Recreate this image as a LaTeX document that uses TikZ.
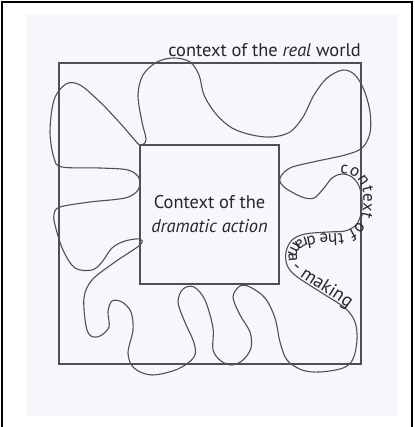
\documentclass[tikz,border=0pt]{standalone}
\usepackage{fontspec}
\setmainfont{PT Sans}
\usetikzlibrary{decorations.text}
\definecolor{inkGray}{HTML}{505050}
\definecolor{textDark}{HTML}{262626}
\definecolor{paperTint}{HTML}{F6F7FB}
\tikzset{
    squarebox/.style={rectangle, draw=inkGray, line width=1.1pt, inner sep=0pt},
    boundary/.style={draw=inkGray, line width=1.1pt},
    worldtext/.style={text=textDark, inner sep=0pt, font=\fontsize{18.4}{24}\selectfont},
    ringtext/.style 2 args={decorate, decoration={text along path, raise=1.5pt, text color=textDark,
        text={|\fontsize{#1}{#1}\selectfont|#2}}},
}

\begin{document}
\begin{tikzpicture}[x=1pt, y=-1pt]
    \useasboundingbox (0,0) rectangle (414,427);
    \fill[paperTint] (26,14) rectangle (398,416);
    \draw[black, line width=2.5pt] (2,427) -- (2,2) -- (412,2) -- (412,427);

    % the two squares
    \node[squarebox, minimum width=302pt, minimum height=301pt] (realworld) at (210,213.5) {};
    \node[squarebox, worldtext, align=center, minimum width=139pt, minimum height=139pt] (action) at (209.5,214.5) {Context of the\\\textit{dramatic action}};
    \node[worldtext, anchor=base east] (realcap) at (361,57) {context of the \textit{real} world};

    % wavy ring between the squares
    \draw[boundary] plot[smooth cycle, tension=0.55] coordinates {
        (140,145) (146,140) (142,122) (138,95) (143,75) (157,62) (174,58) (190,62)
        (199,75) (204,95) (216,114) (232,128) (252,135) (272,137) (290,132) (303,117)
        (314,95) (327,78) (343,70) (355,75) (364,90) (370,112) (370,133) (362,148)
        (345,155) (313,162) (290,168) (280,178) (284,187) (302,197) (314,198) (324,188)
        (332,178) (342,174) (352,177) (359,186) (362,200) (361,214) (356,225) (345,231)
        (328,232) (305,234) (292,240) (286,252) (287,265) (296,276) (322,293) (345,308)
        (355,322) (357,340) (353,359) (343,368) (320,372) (302,370) (287,360) (280,342)
        (275,318) (265,298) (250,287)
        (240,286) (233,297) (240,315) (250,332) (251,348) (243,360) (232,365) (221,361)
        (213,350) (213,328) (205,300) (194,287) (183,289) (178,302) (184,320) (194,343)
        (194,357) (178,369) (152,375) (134,368) (128,353) (133,330) (131,312) (122,302)
        (112,301) (108,312) (109,327) (100,336) (91,336) (86,326) (84,298) (92,280)
        (115,262) (140,245) (140,239) (125,241) (112,248) (102,262) (92,270) (75,268)
        (63,250) (55,225) (54,214) (60,207) (90,202) (125,198) (138,190) (139,178)
        (128,170) (100,168) (62,167) (54,158) (50,132) (54,100) (66,84) (80,85)
        (100,102) (120,123) (133,138)};

    % curved caption of the ring
    \path[ringtext={17}{context of the drama}] (340,175)
        .. controls (352,174) and (362,182) .. (362,198)
        .. controls (362,218) and (356,231) .. (338,232)
        .. controls (315,233) and (293,234) .. (288,250)
        .. controls (285,262) and (290,272) .. (302,281);
    \path[ringtext={18.5}{- making}] (290,270)
        .. controls (305,284) and (330,296) .. (348,310)
        .. controls (354,316) and (357,325) .. (357,338);
\end{tikzpicture}
\end{document}
